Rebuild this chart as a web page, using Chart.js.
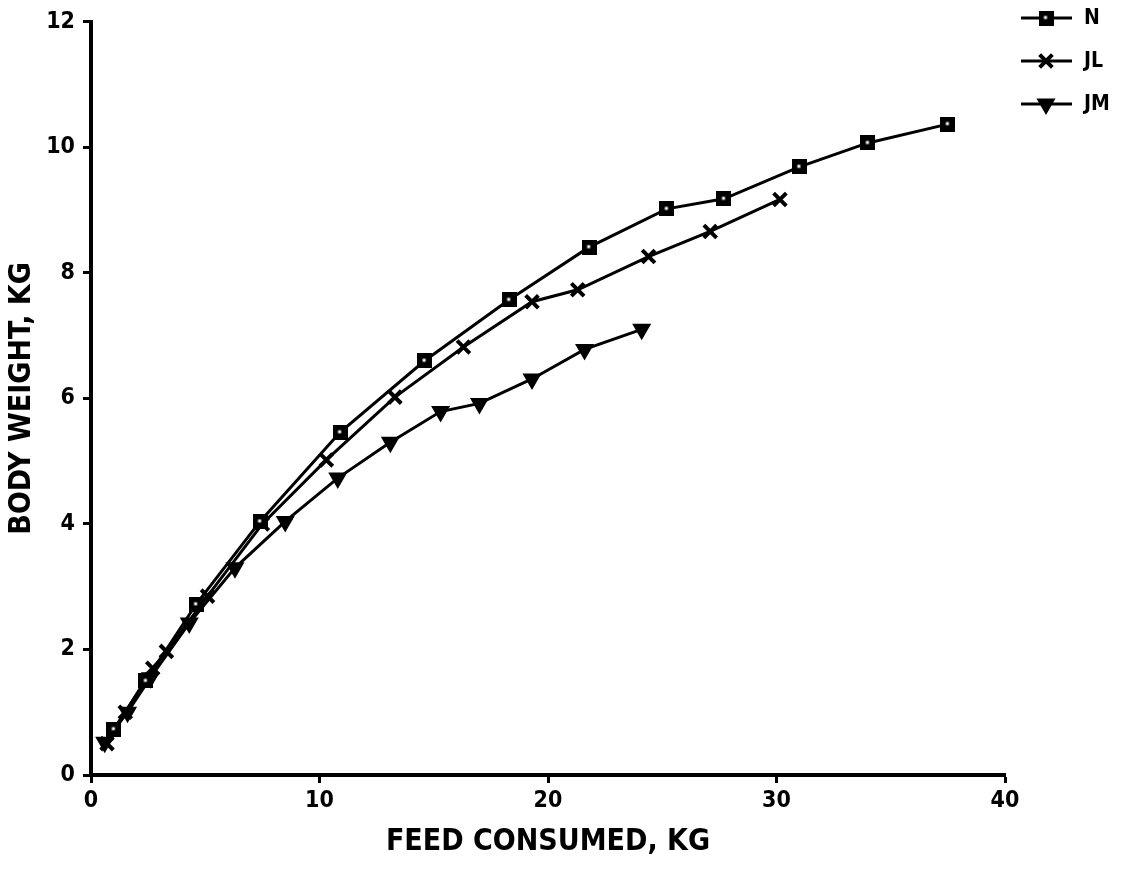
<!DOCTYPE html>
<html>
<head>
<meta charset="utf-8">
<script src="https://cdn.jsdelivr.net/npm/chart.js@4.4.1/dist/chart.umd.min.js"></script>
<style>
html,body{margin:0;padding:0;background:#fff;}
#wrap{width:1130px;height:869px;}
</style>
</head>
<body>
<div id="wrap"><canvas id="c" width="1130" height="869"></canvas></div>
<script>
// Feed consumed (kg) and body weight (kg) per series
const nFeed  = [1.0, 2.4, 4.6, 7.4, 10.9, 14.6, 18.3, 21.8, 25.2, 27.7, 31.0, 34.0, 37.5];
const nBW    = [0.73, 1.5, 2.72, 4.04, 5.46, 6.6, 7.57, 8.41, 9.02, 9.18, 9.69, 10.07, 10.37];
const jlFeed = [0.7, 1.5, 2.7, 3.3, 5.1, 7.5, 10.3, 13.3, 16.3, 19.3, 21.3, 24.4, 27.1, 30.15];
const jlBW   = [0.5, 1.0, 1.7, 1.97, 2.85, 4.0, 5.02, 6.02, 6.82, 7.54, 7.73, 8.26, 8.66, 9.17];
const jmFeed = [0.6, 1.6, 2.6, 4.3, 6.3, 8.5, 10.8, 13.1, 15.3, 17.0, 19.3, 21.6, 24.1];
const jmBW   = [0.52, 1.0, 1.55, 2.42, 3.3, 4.04, 4.73, 5.3, 5.79, 5.92, 6.31, 6.78, 7.1];
const seriesNames = ["N", "JL", "JM"];
const xTicks = [0, 10, 20, 30, 40];
const yTicks = [0, 2, 4, 6, 8, 10, 12];

const pts = (xs, ys) => xs.map((x, i) => ({x: x, y: ys[i]}));
const fam = "'Liberation Sans Narrow','DejaVu Sans Condensed','Liberation Sans',Arial,sans-serif";
const tickFont = {family: fam, size: 23, weight: 'bold'};
const titleFont = {family: fam, size: 30, weight: 'bold'};

// square marker: dark box with small light centre
function squareMarker(size) {
  const c = document.createElement('canvas');
  c.width = size; c.height = size;
  const g = c.getContext('2d');
  g.fillStyle = '#000';
  g.fillRect(0, 0, size, size);
  g.fillStyle = '#fff';
  g.fillRect(size / 2 - 2, size / 2 - 2, 3, 3);
  return c;
}
const sqImg = squareMarker(15);

const legendPlugin = {
  id: 'sideLegend',
  afterDraw(chart) {
    const ctx = chart.ctx;
    const rows = [18, 61, 104];
    chart.data.datasets.forEach((ds, i) => {
      const y = rows[i];
      ctx.save();
      ctx.strokeStyle = '#000';
      ctx.lineWidth = 3;
      ctx.beginPath();
      ctx.moveTo(1021, y);
      ctx.lineTo(1072, y);
      ctx.stroke();
      ctx.fillStyle = ds.pointBackgroundColor;
      ctx.strokeStyle = '#000';
      ctx.lineWidth = ds.pointBorderWidth;
      Chart.helpers.drawPoint(ctx, {
        pointStyle: ds.pointStyle, radius: ds.pointRadius, rotation: ds.pointRotation || 0,
        borderWidth: ds.pointBorderWidth
      }, 1046, y);
      ctx.fillStyle = '#000';
      ctx.font = "bold 21px " + fam;
      ctx.textBaseline = 'middle';
      ctx.textAlign = 'left';
      ctx.fillText(ds.label, 1084, y + 1);
      ctx.restore();
    });
  }
};

const common = {
  showLine: true, borderColor: '#000', borderWidth: 3, tension: 0,
  pointBorderColor: '#000', pointBorderWidth: 3
};

new Chart(document.getElementById('c'), {
  type: 'scatter',
  data: {
    datasets: [
      Object.assign({}, common, {label: seriesNames[0], data: pts(nFeed, nBW), pointStyle: sqImg, pointRadius: 8, pointBackgroundColor: '#000'}),
      Object.assign({}, common, {label: seriesNames[1], data: pts(jlFeed, jlBW), pointStyle: 'crossRot', pointRadius: 9, pointBackgroundColor: '#000', pointBorderWidth: 4}),
      Object.assign({}, common, {label: seriesNames[2], data: pts(jmFeed, jmBW), pointStyle: 'triangle', pointRotation: 180, pointRadius: 8, pointBackgroundColor: '#000'})
    ]
  },
  options: {
    responsive: false,
    animation: false,
    layout: {padding: {top: 19, right: 125, left: 0, bottom: 0}},
    plugins: {legend: {display: false}, tooltip: {enabled: false}},
    scales: {
      x: {
        type: 'linear', min: 0, max: 40,
        afterBuildTicks: s => { s.ticks = xTicks.map(v => ({value: v})); },
        afterFit: s => { s.height = 94; },
        border: {display: true, color: '#000', width: 4},
        grid: {display: true, drawOnChartArea: false, drawTicks: true, tickLength: 8, tickWidth: 3, tickColor: '#000'},
        ticks: {color: '#000', font: tickFont, padding: 4, maxRotation: 0},
        title: {display: true, text: 'FEED CONSUMED, KG', color: '#000', font: titleFont, padding: {top: 0, bottom: 9}}
      },
      y: {
        type: 'linear', min: 0, max: 12,
        afterBuildTicks: s => { s.ticks = yTicks.map(v => ({value: v})); },
        afterFit: s => { s.width = 91; },
        border: {display: true, color: '#000', width: 4},
        grid: {display: true, drawOnChartArea: false, drawTicks: true, tickLength: 8, tickWidth: 3, tickColor: '#000'},
        ticks: {color: '#000', font: tickFont, padding: 8},
        title: {display: true, text: 'BODY WEIGHT, KG', color: '#000', font: titleFont, padding: {top: 4, bottom: 0}}
      }
    }
  },
  plugins: [legendPlugin]
});
</script>
</body>
</html>
